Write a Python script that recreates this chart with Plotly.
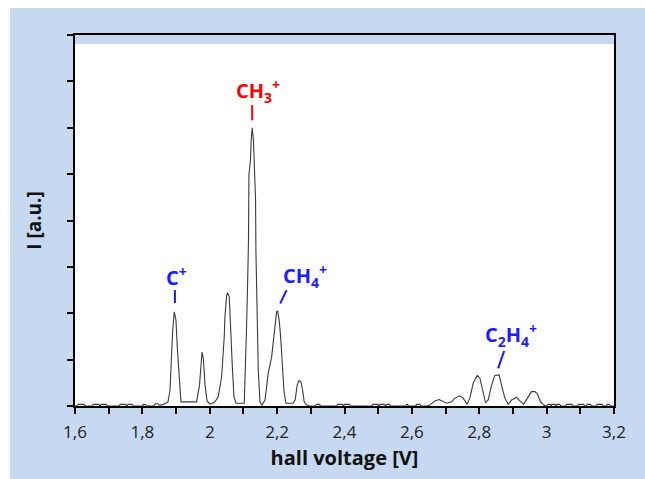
import plotly.graph_objects as go

# Ion current spectrum versus hall voltage
hall_voltage = [
    1.600, 1.607, 1.610, 1.627, 1.630, 1.651, 1.654, 1.670, 1.674, 1.677, 1.693, 1.697,
    1.731, 1.734, 1.750, 1.754, 1.757, 1.770, 1.774, 1.800, 1.803, 1.808, 1.811, 1.835,
    1.838, 1.846, 1.850, 1.860, 1.870, 1.876,
    1.882, 1.890, 1.8947, 1.8997, 1.9036, 1.9095, 1.9145, 1.935, 1.961,
    1.9696, 1.974, 1.977, 1.981, 1.986, 1.992, 2.0006, 2.008,
    2.0154, 2.0252, 2.0353, 2.043, 2.045, 2.050, 2.0525, 2.0579, 2.062, 2.065, 2.067,
    2.0718, 2.0778, 2.1024,
    2.1045, 2.109, 2.112, 2.115, 2.1163, 2.1208, 2.123, 2.126, 2.1297, 2.1327, 2.136,
    2.137, 2.140, 2.144, 2.149, 2.155,
    2.164, 2.1736, 2.1837, 2.1905, 2.1985, 2.2015, 2.2062, 2.2104, 2.2151, 2.2202, 2.226,
    2.247, 2.2535, 2.2596, 2.2647, 2.2706, 2.2757, 2.2804, 2.2875, 2.296,
    2.314, 2.317, 2.326, 2.329, 2.377, 2.380, 2.394, 2.397, 2.400, 2.415, 2.418,
    2.481, 2.484, 2.499, 2.502, 2.505, 2.519, 2.522, 2.525, 2.534, 2.537,
    2.581, 2.584, 2.587, 2.590, 2.611, 2.614, 2.624, 2.627, 2.645, 2.6534,
    2.6682, 2.681, 2.691, 2.703, 2.718, 2.7276, 2.7424, 2.7522, 2.764,
    2.772, 2.782, 2.794, 2.802, 2.810, 2.8187, 2.8264, 2.8365, 2.8463, 2.859, 2.866,
    2.876, 2.886, 2.896, 2.911, 2.9205, 2.932, 2.942, 2.955, 2.965, 2.972, 2.982,
    2.9917, 2.998,
    3.001, 3.004, 3.010, 3.013, 3.015, 3.025, 3.028, 3.030, 3.039, 3.042,
    3.057, 3.060, 3.075, 3.078, 3.092, 3.095, 3.110, 3.113, 3.117, 3.120, 3.130, 3.133,
    3.147, 3.150, 3.165, 3.168, 3.177, 3.180, 3.185, 3.188, 3.200,
]
intensity = [
    0.00, 0.00, 0.035, 0.035, 0.00, 0.00, 0.035, 0.035, 0.00, 0.035, 0.035, 0.00,
    0.00, 0.035, 0.035, 0.00, 0.035, 0.035, 0.00, 0.00, 0.035, 0.035, 0.00, 0.00,
    0.05, 0.05, 0.02, 0.03, 0.06, 0.09,
    0.34, 1.64, 2.03, 1.85, 1.27, 0.56, 0.09, 0.09, 0.09,
    0.45, 0.99, 1.16, 1.03, 0.45, 0.11, 0.04, 0.06,
    0.09, 0.20, 0.63, 1.50, 1.92, 2.37, 2.44, 2.36, 1.60, 1.21, 0.85,
    0.20, 0.06, 0.06,
    0.45, 1.64, 2.50, 3.58, 4.98, 5.30, 5.73, 6.00, 5.73, 5.09, 4.44,
    3.36, 1.85, 0.78, 0.09, 0.02,
    0.13, 0.71, 1.06, 1.57, 2.03, 2.05, 1.85, 1.49, 0.84, 0.34, 0.06,
    0.06, 0.13, 0.45, 0.55, 0.52, 0.34, 0.09, 0.02, 0.00,
    0.00, 0.035, 0.035, 0.00, 0.00, 0.035, 0.035, 0.00, 0.035, 0.035, 0.00,
    0.00, 0.035, 0.035, 0.00, 0.035, 0.035, 0.00, 0.035, 0.035, 0.00,
    0.00, 0.035, 0.035, 0.00, 0.00, 0.035, 0.035, 0.00, 0.00, 0.02,
    0.11, 0.14, 0.11, 0.06, 0.09, 0.17, 0.22, 0.17, 0.04,
    0.17, 0.49, 0.66, 0.60, 0.31, 0.07, 0.13, 0.45, 0.66, 0.67, 0.45,
    0.17, 0.04, 0.13, 0.19, 0.11, 0.04, 0.17, 0.31, 0.31, 0.27, 0.09,
    0.02, 0.00,
    0.00, 0.035, 0.035, 0.00, 0.035, 0.035, 0.00, 0.035, 0.035, 0.00,
    0.00, 0.035, 0.035, 0.00, 0.00, 0.035, 0.035, 0.00, 0.00, 0.035, 0.035, 0.00,
    0.00, 0.035, 0.035, 0.00, 0.00, 0.035, 0.035, 0.00, 0.00,
]

# Peak labels: text, text position, pointer line (x0, y0, x1, y1), colour
ion_labels = ["C<sup>+</sup>", "CH<sub>3</sub><sup>+</sup>", "CH<sub>4</sub><sup>+</sup>",
              "C<sub>2</sub>H<sub>4</sub><sup>+</sup>"]
label_x = [1.902, 2.143, 2.283, 2.893]
label_y = [2.80, 6.80, 2.80, 1.53]
pointer_lines = [
    (1.8967, 2.22, 1.8967, 2.50),
    (2.126, 6.16, 2.126, 6.49),
    (2.2092, 2.21, 2.228, 2.50),
    (2.856, 0.81, 2.874, 1.19),
]
label_colors = ["#1c1cff", "#ff0000", "#1c1cff", "#1c1cff"]

x_range = [1.6, 3.2]
y_range = [0, 8]

BG = "#c6d9f0"
FONT = "Open Sans"

fig = go.Figure()
fig.add_trace(go.Scatter(
    x=hall_voltage, y=intensity, mode="lines",
    line=dict(color="#3a3a3a", width=1.1),
    hoverinfo="skip", showlegend=False,
))

for text, lx, ly, col in zip(ion_labels, label_x, label_y, label_colors):
    fig.add_annotation(x=lx, y=ly, text=f"<b>{text}</b>", showarrow=False,
                       font=dict(family=FONT, size=20, color=col),
                       xanchor="center", yanchor="middle")

for (x0, y0, x1, y1), col in zip(pointer_lines, label_colors):
    fig.add_shape(type="line", xref="x", yref="y", x0=x0, y0=y0, x1=x1, y1=y1,
                  line=dict(color=col, width=2))

# light-blue band along the top of the frame
fig.add_shape(type="rect", xref="paper", yref="paper", x0=0, x1=1, y0=0.9757, y1=1.0,
              fillcolor=BG, line=dict(width=0), layer="below")
# white page edge on the left and top
fig.add_shape(type="rect", xref="paper", yref="paper", x0=-75 / 539, x1=-65 / 539,
              y0=-73 / 371, y1=406 / 371, fillcolor="white", line=dict(width=0), layer="below")
fig.add_shape(type="rect", xref="paper", yref="paper", x0=-75 / 539, x1=570 / 539,
              y0=398 / 371, y1=406 / 371, fillcolor="white", line=dict(width=0), layer="below")

fig.update_layout(
    width=645, height=479,
    margin=dict(l=75, r=31, t=35, b=73, autoexpand=False),
    paper_bgcolor=BG, plot_bgcolor="white",
    separators=", ",
    font=dict(family=FONT, color="#222222"),
    xaxis=dict(
        range=x_range, dtick=0.2, tick0=1.6,
        ticks="outside", ticklen=6, tickwidth=1.5, tickcolor="black",
        minor=dict(dtick=0.1, ticks="outside", ticklen=6, tickwidth=1.5, tickcolor="black"),
        showline=True, linecolor="black", linewidth=2, mirror=True,
        showgrid=False, zeroline=False,
        tickfont=dict(family=FONT, size=17, color="#222222"),
        ticklabelstandoff=4,
        title=dict(text="<b>hall voltage [V]</b>", font=dict(family=FONT, size=20, color="#111111"),
                   standoff=9),
    ),
    yaxis=dict(
        range=y_range, dtick=1,
        ticks="outside", ticklen=6, tickwidth=1.5, tickcolor="black",
        showticklabels=False,
        showline=True, linecolor="black", linewidth=2, mirror=True,
        showgrid=False, zeroline=False,
        title=dict(text="<b>I [a.u.]</b>", font=dict(family=FONT, size=19, color="#111111"),
                   standoff=20),
    ),
)

fig.write_html("out.html")
